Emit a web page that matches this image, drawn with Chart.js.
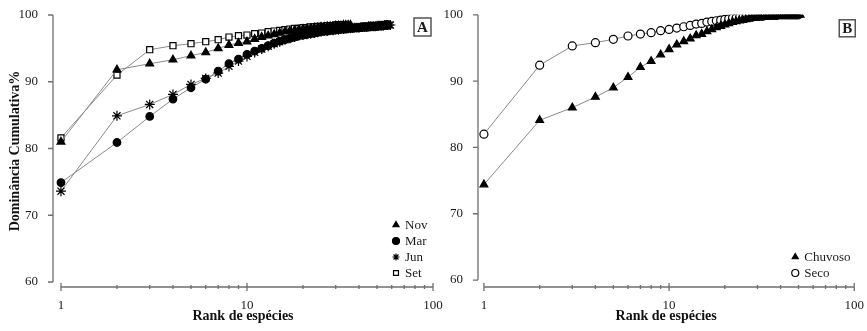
<!DOCTYPE html>
<html>
<head>
<meta charset="utf-8">
<title>Dominância cumulativa</title>
<script src="https://cdn.jsdelivr.net/npm/chart.js@4.4.1/dist/chart.umd.min.js"></script>
<style>
  body { margin: 0; background: #fff; }
  #wrap { position: relative; width: 867px; height: 331px; overflow: hidden; }
  .panel { position: absolute; top: 0; }
  #panelA { left: 0; }
  #panelB { left: 440px; }
</style>
</head>
<body>
<div id="wrap">
  <div class="panel" id="panelA"><canvas id="chartA" width="446" height="331"></canvas></div>
  <div class="panel" id="panelB"><canvas id="chartB" width="427" height="331"></canvas></div>
</div>
<script>
// ---- data (cumulative dominance % by species rank; rank = position in list) ----
const nov = [81.0, 91.8, 92.7, 93.3, 93.9, 94.4, 95.0, 95.5, 95.8, 96.0,
             96.4, 96.7, 96.9, 97.1, 97.3, 97.5, 97.6, 97.7, 97.8, 97.9,
             98.0, 98.0, 98.1, 98.1, 98.2, 98.2, 98.3, 98.3, 98.3, 98.4,
             98.4, 98.4, 98.5, 98.5, 98.5, 98.5];
const mar = [74.9, 80.9, 84.8, 87.4, 89.1, 90.4, 91.6, 92.7, 93.4, 94.1,
             94.6, 95.0, 95.4, 95.8, 96.1, 96.3, 96.5, 96.7, 96.9, 97.0,
             97.1, 97.2, 97.3, 97.4, 97.5, 97.6, 97.6, 97.7, 97.7, 97.8,
             97.8, 97.9, 97.9, 97.9, 98.0, 98.0, 98.0, 98.1, 98.1, 98.1,
             98.1, 98.2, 98.2, 98.2, 98.2, 98.3, 98.3, 98.3, 98.3, 98.3,
             98.4, 98.4, 98.4, 98.4, 98.4, 98.5, 98.5];
const jun = [73.6, 84.9, 86.6, 88.1, 89.6, 90.5, 91.3, 92.3, 93.1, 93.8,
             94.4, 94.9, 95.3, 95.7, 96.0, 96.3, 96.5, 96.7, 96.9, 97.0,
             97.1, 97.2, 97.3, 97.4, 97.5, 97.6, 97.6, 97.7, 97.7, 97.8,
             97.8, 97.9, 97.9, 98.0, 98.0, 98.0, 98.1, 98.1, 98.1, 98.1,
             98.2, 98.2, 98.2, 98.2, 98.3, 98.3, 98.3, 98.3, 98.3, 98.4,
             98.4, 98.4, 98.4, 98.4, 98.5, 98.5, 98.5, 98.5, 98.5];
const set = [81.6, 91.0, 94.8, 95.4, 95.7, 96.0, 96.3, 96.7, 96.9, 97.0,
             97.2, 97.3, 97.5, 97.6, 97.7, 97.8, 97.9, 98.0, 98.0, 98.1,
             98.1, 98.2, 98.2, 98.3, 98.3, 98.3, 98.4, 98.4, 98.4, 98.5,
             98.5, 98.5, 98.5];

const chuvoso = [74.4, 84.1, 86.0, 87.6, 89.0, 90.6, 92.1, 93.0, 94.0, 94.8,
                 95.5, 96.0, 96.4, 96.9, 97.1, 97.5, 97.8, 98.1, 98.3, 98.5,
                 98.7, 98.9, 99.0, 99.1, 99.2, 99.3, 99.4, 99.5, 99.5, 99.6,
                 99.6, 99.7, 99.7, 99.8, 99.8, 99.8, 99.9, 99.9, 99.9, 99.9,
                 99.9, 100, 100, 100, 100, 100, 100, 100, 100, 100, 100];
const seco = [82.0, 92.4, 95.3, 95.8, 96.3, 96.8, 97.1, 97.3, 97.6, 97.8,
              98.0, 98.2, 98.4, 98.6, 98.7, 98.9, 99.0, 99.1, 99.2, 99.3,
              99.4, 99.5, 99.5, 99.6, 99.6, 99.7, 99.7, 99.7, 99.8, 99.8,
              99.8, 99.8, 99.9, 99.9, 99.9, 99.9, 99.9, 99.9, 100, 100,
              100, 100, 100, 100, 100, 100, 100, 100, 100, 100];

const yTicks = [60, 70, 80, 90, 100];
const xTicks = [1, 2, 3, 4, 5, 6, 7, 8, 9, 10, 20, 30, 40, 50, 60, 70, 80, 90, 100];
const xLabels = [1, 10, 100];

const FONT = "'Liberation Serif', 'Times New Roman', serif";
const LINE = '#8a8a8a';
const INK = '#1a1a1a';

function toPoints(values) {
  return values.map((v, i) => ({ x: i + 1, y: v }));
}

function series(label, values, style, filled, radius) {
  return {
    label: label,
    data: toPoints(values),
    borderColor: LINE,
    borderWidth: 1,
    pointStyle: style,
    pointRadius: radius,
    pointBorderWidth: 1.2,
    pointBorderColor: '#000',
    pointBackgroundColor: filled ? '#000' : '#fff',
    tension: 0,
    fill: false
  };
}

// axis lines, legend and panel letter, drawn the way the paper figure does
const paperAxes = {
  id: 'paperAxes',
  beforeDatasetsDraw(chart) {
    const ctx = chart.ctx, xs = chart.scales.x, ys = chart.scales.y;
    const left = chart.chartArea.left, bottom = chart.chartArea.bottom;
    ctx.save();
    ctx.strokeStyle = '#6f6f6f';
    ctx.lineWidth = 1.3;
    ctx.beginPath();
    ctx.moveTo(left, ys.getPixelForValue(yTicks[0]));
    ctx.lineTo(left, ys.getPixelForValue(yTicks[yTicks.length - 1]));
    yTicks.forEach(v => {
      const py = ys.getPixelForValue(v);
      ctx.moveTo(left - 5, py);
      ctx.lineTo(left, py);
    });
    ctx.moveTo(xs.getPixelForValue(xTicks[0]), bottom);
    ctx.lineTo(xs.getPixelForValue(xTicks[xTicks.length - 1]), bottom);
    xTicks.forEach(v => {
      const px = xs.getPixelForValue(v);
      const h = xLabels.includes(v) ? 4 : 2;
      ctx.moveTo(px, bottom - h);
      ctx.lineTo(px, bottom + h);
    });
    ctx.stroke();
    ctx.restore();
  },
  afterDraw(chart, args, opts) {
    const ctx = chart.ctx, area = chart.chartArea;
    ctx.save();
    // legend
    ctx.font = '13px ' + FONT;
    ctx.textBaseline = 'middle';
    chart.data.datasets.forEach((ds, i) => {
      const n = chart.data.datasets.length;
      const y = area.bottom - opts.legendBottom - (n - 1 - i) * 16;
      const x = area.right - opts.legendRight;
      ctx.fillStyle = ds.pointBackgroundColor;
      ctx.strokeStyle = '#000';
      ctx.lineWidth = 1.2;
      Chart.helpers.drawPoint(ctx, { pointStyle: ds.pointStyle, radius: 3.5, borderWidth: 1.2, rotation: 0 }, x, y);
      ctx.fillStyle = INK;
      ctx.fillText(ds.label, x + 9, y + 1);
    });
    // panel letter in a box
    const b = opts.box;
    const bx = area.right - b.right, by = area.top + b.top;
    ctx.strokeStyle = '#555';
    ctx.lineWidth = 1.5;
    ctx.strokeRect(bx, by, b.w, b.h);
    ctx.font = 'bold 15px ' + FONT;
    ctx.fillStyle = INK;
    ctx.textAlign = 'center';
    ctx.fillText(opts.letter, bx + b.w / 2, by + b.h / 2 + 1);
    ctx.restore();
  }
};

function makeChart(id, datasets, cfg) {
  return new Chart(document.getElementById(id), {
    type: 'line',
    data: { datasets: datasets },
    options: {
      responsive: false,
      animation: false,
      devicePixelRatio: 1,
      layout: { padding: { left: 0, right: cfg.padRight, top: cfg.padTop, bottom: 0 } },
      plugins: {
        legend: { display: false },
        tooltip: { enabled: false },
        paperAxes: cfg.decor
      },
      scales: {
        x: {
          type: 'logarithmic',
          min: cfg.xMin,
          max: 100,
          afterBuildTicks: s => { s.ticks = xTicks.map(v => ({ value: v, major: xLabels.includes(v) })); },
          afterFit: s => { s.height = 44; },
          grid: { display: false },
          border: { display: false },
          ticks: {
            autoSkip: false, maxRotation: 0, padding: 3, color: INK,
            font: { family: FONT, size: 13 },
            callback: v => xLabels.includes(v) ? String(v) : ''
          },
          title: {
            display: true, text: 'Rank de espécies', color: '#111',
            font: { family: FONT, size: 14, weight: 'bold' },
            padding: { top: 0, bottom: 6 }
          }
        },
        y: {
          min: cfg.yMin,
          max: 100,
          afterBuildTicks: s => { s.ticks = yTicks.map(v => ({ value: v })); },
          afterFit: s => { s.width = cfg.yWidth; },
          grid: { display: false },
          border: { display: false },
          ticks: { padding: 7, color: INK, font: { family: FONT, size: 13 } },
          title: {
            display: cfg.yTitle !== '', text: cfg.yTitle, color: '#111',
            font: { family: FONT, size: 14, weight: 'bold' },
            padding: { top: 7, bottom: 0 }
          }
        }
      }
    },
    plugins: [paperAxes]
  });
}

makeChart('chartA', [
  series('Nov', nov, 'triangle', true, 4.5),
  series('Mar', mar, 'circle', true, 3.8),
  series('Jun', jun, 'star', true, 5),
  series('Set', set, 'rect', false, 4.3)
], {
  xMin: 0.906, yMin: 59.25, yWidth: 53, padTop: 15, padRight: 13, yTitle: 'Dominância Cumulativa%',
  decor: { legendRight: 37, legendBottom: 14, letter: 'A', box: { right: 19, top: 3, w: 17, h: 18 } }
});

makeChart('chartB', [
  series('Chuvoso', chuvoso, 'triangle', true, 4.5),
  series('Seco', seco, 'circle', false, 4)
], {
  xMin: 0.929, yMin: 58.95, yWidth: 38, padTop: 12, padRight: 10, yTitle: '',
  decor: { legendRight: 59, legendBottom: 14, letter: 'B', box: { right: 15, top: 5, w: 16, h: 17 } }
});
</script>
</body>
</html>
